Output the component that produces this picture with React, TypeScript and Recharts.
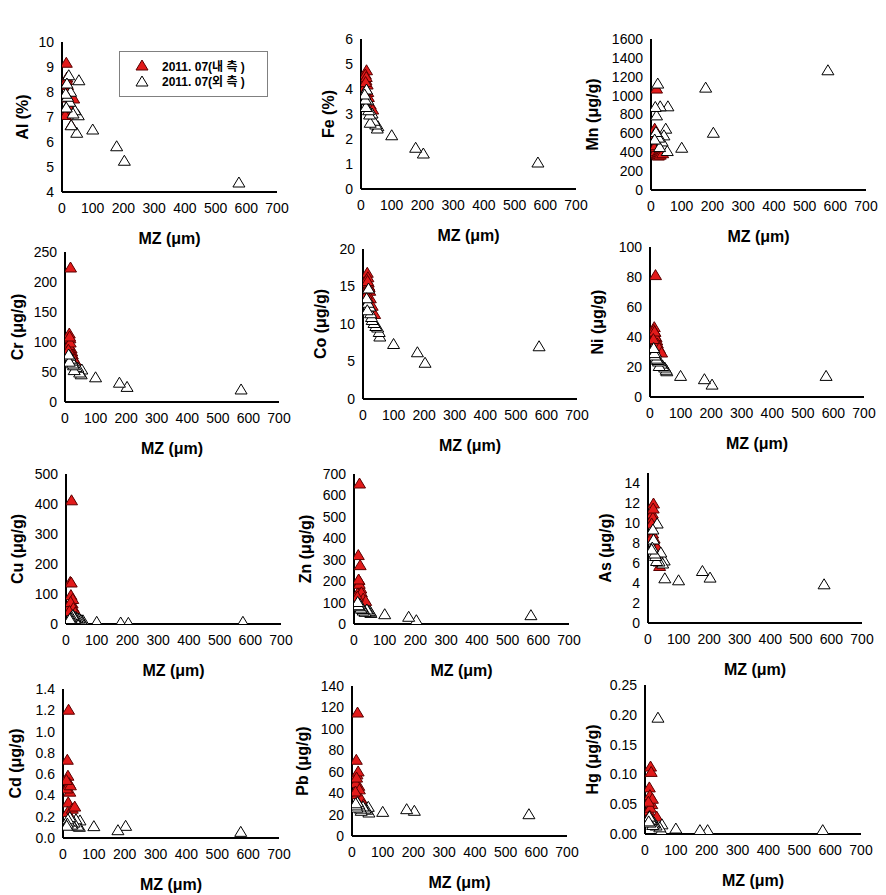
import React from 'react';
import { ScatterChart, Scatter, XAxis, YAxis, Label } from 'recharts';

const FONT = '"Liberation Sans", Arial, "Noto Sans CJK KR", sans-serif';

// grain size (MZ, um) of the samples, shared by all panels
const innerMZ = [18, 14, 16, 20, 22, 12, 17, 15, 24, 30, 38, 11];
const outerMZ = [576, 203, 178, 100, 55, 53, 48, 42, 36, 30, 28, 25, 22, 18, 16, 14, 12];
const mzTicks = [0, 100, 200, 300, 400, 500, 600, 700];

const legendNames = ['2011. 07(내 측 )', '2011. 07(외 측 )'];

const alInner = [8.3, 9.19, 8.6, 8.0, 7.5, 7.2, 7.8, 8.5, 7.4, 6.7, 7.76, 7.1];
const alOuter = [4.4, 5.27, 5.85, 6.52, 8.49, 7.09, 6.39, 7.29, 7.16, 6.69, 8.03, 7.63, 8.69, 7.83, 8.36, 7.4, 7.95];

const feInner = [4.77, 4.6, 4.37, 4.2, 3.9, 4.1, 4.5, 4.3, 3.7, 3.4, 3.2, 3.9];
const feOuter = [1.08, 1.44, 1.67, 2.17, 2.53, 2.44, 2.6, 2.75, 3.04, 2.67, 3.0, 3.17, 3.57, 4.0, 3.3, 3.6, 3.8];

const mnInner = [1080, 400, 420, 390, 380, 655, 460, 480, 370, 380, 395, 600];
const mnOuter = [1274, 612, 1090, 453, 892, 418, 655, 584, 520, 892, 460, 560, 1133, 796, 620, 885, 540];

const crInner = [225, 115, 107, 90, 85, 96, 100, 110, 80, 72, 65, 88];
const crOuter = [21.7, 26, 33, 42, 55, 47, 50, 58, 59, 54, 62, 65, 70, 73, 78, 68, 80];

const coInner = [15.2, 16.9, 16.3, 15.0, 14.5, 16.0, 15.6, 15.8, 13.5, 12.5, 11.4, 14.0];
const coOuter = [7.1, 4.9, 6.3, 7.4, 8.4, 9.0, 9.6, 9.8, 10.2, 10.6, 11.0, 11.5, 12.4, 14.8, 12.9, 11.9, 13.5];

const niInner = [81.6, 46.9, 43.6, 40, 38, 45, 41, 44, 36, 33, 30, 39];
const niOuter = [14.4, 8.6, 12.2, 14.4, 17.5, 18.5, 20, 21, 22.6, 21, 24, 25, 25.9, 30, 28, 29.6, 33];

const cuInner = [414, 142, 98, 70, 85, 60, 140, 75, 55, 40, 30, 45];
const cuOuter = [9, 5.5, 6.7, 9, 14, 10, 16, 20, 22, 25, 18, 28, 31, 26, 22, 20, 18];

const znInner = [658, 324, 207, 277, 168, 145, 190, 210, 150, 121, 110, 130];
const znOuter = [43.5, 20, 36, 48, 54, 60, 62, 70, 59, 65, 72, 80, 75, 98, 85, 90, 105];

const asInner = [12.0, 11.0, 10.6, 8.5, 8.0, 10.0, 11.5, 9.0, 7.0, 7.6, 5.75, 8.6];
const asOuter = [3.92, 4.59, 5.25, 4.32, 4.52, 6.3, 6.0, 7.1, 6.2, 10.0, 6.25, 6.75, 7.0, 8.4, 9.4, 7.6, 7.4];

const cdInner = [1.21, 0.74, 0.59, 0.52, 0.44, 0.47, 0.34, 0.25, 0.5, 0.28, 0.3, 0.55];
const cdOuter = [0.0625, 0.119, 0.078, 0.116, 0.17, 0.11, 0.12, 0.18, 0.15, 0.14, 0.13, 0.16, 0.2, 0.16, 0.18, 0.14, 0.12];

const pbInner = [115.7, 71.6, 58, 60.7, 47.3, 50, 39.5, 55, 44, 35, 30, 42];
const pbOuter = [20.8, 24, 25.5, 23, 22.4, 27.7, 25, 26, 28, 24, 26, 28, 30, 32, 27, 29, 31];

const hgInner = [0.114, 0.079, 0.066, 0.105, 0.051, 0.04, 0.045, 0.032, 0.06, 0.021, 0.03, 0.055];
const hgOuter = [0.0073, 0.0073, 0.0073, 0.01, 0.017, 0.007, 0.012, 0.196, 0.015, 0.02, 0.018, 0.016, 0.024, 0.025, 0.02, 0.03, 0.022];

type PanelDef = {
  name: string;
  inner: number[];
  outer: number[];
  domain: [number, number];
  ticks: number[];
  decimals: number;
  box: [number, number, number, number]; // plot left, top, right, bottom
  titleGap: number;
};

const panels: PanelDef[] = [
  { name: 'Al (%)', inner: alInner, outer: alOuter, domain: [4, 10], ticks: [4, 5, 6, 7, 8, 9, 10], decimals: 0, box: [62, 42, 277, 192], titleGap: 40 },
  { name: 'Fe (%)', inner: feInner, outer: feOuter, domain: [0, 6], ticks: [0, 1, 2, 3, 4, 5, 6], decimals: 0, box: [361, 39, 576, 189], titleGap: 33 },
  { name: 'Mn (μg/g)', inner: mnInner, outer: mnOuter, domain: [0, 1600], ticks: [0, 200, 400, 600, 800, 1000, 1200, 1400, 1600], decimals: 0, box: [651, 39, 866, 190], titleGap: 59 },
  { name: 'Cr (μg/g)', inner: crInner, outer: crOuter, domain: [0, 250], ticks: [0, 50, 100, 150, 200, 250], decimals: 0, box: [65, 252, 279, 402], titleGap: 48 },
  { name: 'Co (μg/g)', inner: coInner, outer: coOuter, domain: [0, 20], ticks: [0, 5, 10, 15, 20], decimals: 0, box: [363, 249, 577, 399], titleGap: 43 },
  { name: 'Ni (μg/g)', inner: niInner, outer: niOuter, domain: [0, 100], ticks: [0, 20, 40, 60, 80, 100], decimals: 0, box: [650, 247, 864, 397], titleGap: 53 },
  { name: 'Cu (μg/g)', inner: cuInner, outer: cuOuter, domain: [0, 500], ticks: [0, 100, 200, 300, 400, 500], decimals: 0, box: [66, 474, 281, 624], titleGap: 49 },
  { name: 'Zn (μg/g)', inner: znInner, outer: znOuter, domain: [0, 700], ticks: [0, 100, 200, 300, 400, 500, 600, 700], decimals: 0, box: [354, 474, 569, 624], titleGap: 49 },
  { name: 'As (μg/g)', inner: asInner, outer: asOuter, domain: [0, 15], ticks: [0, 2, 4, 6, 8, 10, 12, 14], decimals: 0, box: [648, 473, 862, 623], titleGap: 43 },
  { name: 'Cd (μg/g)', inner: cdInner, outer: cdOuter, domain: [0, 1.4], ticks: [0, 0.2, 0.4, 0.6, 0.8, 1.0, 1.2, 1.4], decimals: 1, box: [63, 689, 279, 838], titleGap: 48 },
  { name: 'Pb (μg/g)', inner: pbInner, outer: pbOuter, domain: [0, 140], ticks: [0, 20, 40, 60, 80, 100, 120, 140], decimals: 0, box: [352, 686, 567, 836], titleGap: 50 },
  { name: 'Hg (μg/g)', inner: hgInner, outer: hgOuter, domain: [0, 0.25], ticks: [0, 0.05, 0.1, 0.15, 0.2, 0.25], decimals: 2, box: [645, 685, 861, 834], titleGap: 53 },
];

const RED = '#e21a1a';
const RED_EDGE = '#5a0000';

const triPoints = (cx: number, cy: number) => `${cx},${cy - 5} ${cx - 6},${cy + 5} ${cx + 6},${cy + 5}`;

const RedTri = (props: any) => {
  const { cx, cy } = props;
  if (cx == null || cy == null) return null;
  return <polygon points={triPoints(cx, cy)} fill={RED} stroke={RED_EDGE} strokeWidth={1} />;
};

const OpenTri = (props: any) => {
  const { cx, cy } = props;
  if (cx == null || cy == null) return null;
  return <polygon points={triPoints(cx, cy)} fill="#fff" stroke="#000" strokeWidth={1} />;
};

const tickStyle = { fill: '#000', fontSize: 14, fontFamily: FONT };
const titleStyle = { fill: '#000', fontSize: 16, fontWeight: 'bold' as const, fontFamily: FONT };

const Panel = ({ p }: { p: PanelDef }) => {
  const [L, T, R, B] = p.box;
  const yw = 75;
  const mt = 12;
  const mr = 15;
  const xh = 60;
  const width = R - L + yw + mr;
  const height = B - T + mt + xh;
  const innerData = innerMZ.map((x, i) => ({ x, y: p.inner[i] }));
  const outerData = outerMZ.map((x, i) => ({ x, y: p.outer[i] }));

  return (
    <div style={{ position: 'absolute', left: L - yw, top: T - mt }}>
      <ScatterChart width={width} height={height} margin={{ top: mt, right: mr, bottom: 0, left: 0 }}>
        <XAxis
          type="number"
          dataKey="x"
          domain={[0, 700]}
          ticks={mzTicks}
          interval={0}
          allowDataOverflow
          height={xh}
          tickLine={false}
          tickMargin={5}
          axisLine={{ stroke: '#000', strokeWidth: 2 }}
          tick={tickStyle}
        >
          <Label value="MZ (μm)" position="insideTop" offset={41} style={titleStyle} />
        </XAxis>
        <YAxis
          type="number"
          dataKey="y"
          domain={p.domain}
          ticks={p.ticks}
          interval={0}
          allowDataOverflow
          width={yw}
          tickLine={false}
          axisLine={{ stroke: '#000', strokeWidth: 2 }}
          tick={tickStyle}
          tickFormatter={(v: number) => v.toFixed(p.decimals)}
        >
          <Label
            value={p.name}
            angle={-90}
            position="insideLeft"
            offset={yw - p.titleGap}
            style={{ ...titleStyle, textAnchor: 'middle' }}
          />
        </YAxis>
        <Scatter name={legendNames[0]} data={innerData} shape={RedTri} isAnimationActive={false} />
        <Scatter name={legendNames[1]} data={outerData} shape={OpenTri} isAnimationActive={false} />
      </ScatterChart>
    </div>
  );
};

const LegendBox = () => (
  <div style={{ position: 'absolute', left: 119, top: 51 }}>
    <svg width={149} height={46}>
      <rect x={0.5} y={0.5} width={148} height={45} fill="#fff" stroke="#808080" />
      <polygon points={triPoints(23, 14)} fill={RED} stroke={RED_EDGE} strokeWidth={1} />
      <text x={43} y={19.5} fontSize={12} fontWeight="bold" fontFamily={FONT} fill="#000">
        {legendNames[0]}
      </text>
      <polygon points={triPoints(23, 30)} fill="#fff" stroke="#000" strokeWidth={1} />
      <text x={43} y={35} fontSize={12} fontWeight="bold" fontFamily={FONT} fill="#000">
        {legendNames[1]}
      </text>
    </svg>
  </div>
);

export default function App() {
  return (
    <div style={{ position: 'absolute', left: 0, top: 0, width: 886, height: 895, background: '#fff', fontFamily: FONT }}>
      {panels.map((p) => (
        <Panel key={p.name} p={p} />
      ))}
      <LegendBox />
    </div>
  );
}
